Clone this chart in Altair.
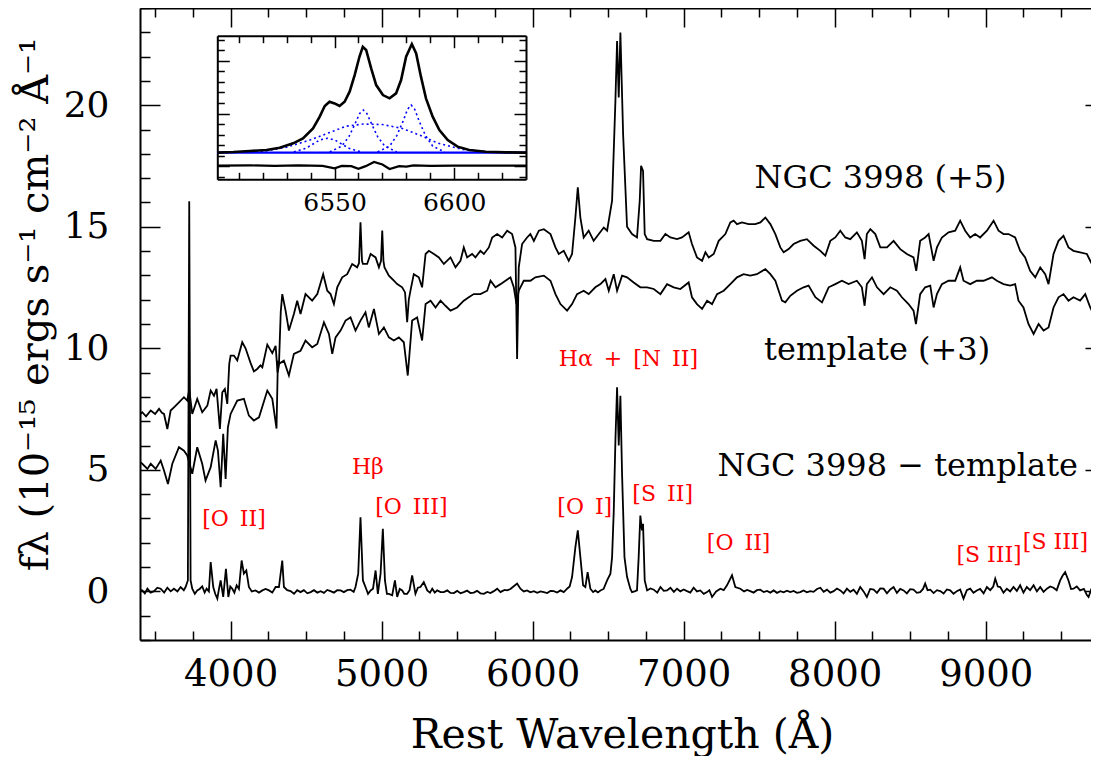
import altair as alt
import pandas as pd

# ---------------- main spectra (rest wavelength in Angstrom, flux in 1e-15 units) -------------
gal_wave = [3404, 3415, 3440, 3471, 3500, 3526, 3545, 3559, 3581, 3603, 3630, 3658, 3691, 3713, 3726, 3746,
            3779, 3812, 3846, 3868, 3890, 3907, 3929, 3945, 3962, 3978, 3991, 4000, 4022, 4044, 4077, 4099,
            4132, 4154, 4176, 4198, 4210, 4243, 4276, 4298, 4311, 4320, 4332, 4342, 4364, 4386, 4419, 4441,
            4463, 4496, 4540, 4574, 4613, 4640, 4662, 4684, 4706, 4739, 4772, 4805, 4838, 4850, 4860, 4870,
            4876, 4904, 4927, 4960, 4982, 4996, 5004, 5012, 5019, 5048, 5081, 5103, 5136, 5155, 5169, 5180,
            5191, 5213, 5246, 5268, 5291, 5313, 5346, 5379, 5412, 5456, 5489, 5522, 5544, 5566, 5599, 5621,
            5654, 5677, 5710, 5732, 5765, 5798, 5831, 5864, 5886, 5897, 5908, 5930, 5963, 5985, 6008, 6041,
            6074, 6118, 6151, 6173, 6206, 6239, 6261, 6283, 6299, 6316, 6338, 6371, 6404, 6438, 6471, 6493,
            6526, 6548, 6559, 6570, 6581, 6599, 6625, 6658, 6691, 6709, 6718, 6731, 6742, 6758, 6802, 6846,
            6879, 6912, 6956, 6989, 7033, 7055, 7088, 7122, 7144, 7166, 7199, 7232, 7276, 7309, 7331, 7353,
            7386, 7430, 7474, 7508, 7541, 7574, 7607, 7640, 7662, 7695, 7728, 7772, 7816, 7861, 7905, 7938,
            7971, 8004, 8037, 8070, 8103, 8147, 8180, 8198, 8213, 8236, 8269, 8302, 8346, 8390, 8434, 8478,
            8522, 8540, 8566, 8599, 8622, 8655, 8677, 8710, 8754, 8798, 8831, 8864, 8897, 8930, 8963, 9008,
            9052, 9085, 9118, 9151, 9195, 9228, 9261, 9294, 9328, 9361, 9394, 9416, 9449, 9482, 9515, 9548,
            9581, 9625, 9670, 9692, 9714, 9750]
gal_flux = [7.30, 7.37, 7.20, 7.44, 7.30, 7.51, 7.35, 7.30, 6.68, 7.44, 7.60, 7.78, 7.99, 7.85, 8.30, 7.30,
            7.92, 7.37, 7.64, 8.26, 8.05, 8.33, 6.68, 8.19, 8.33, 7.71, 9.36, 9.70, 9.70, 9.50, 10.25, 10.00,
            9.40, 9.05, 9.15, 9.30, 9.22, 10.15, 9.80, 10.10, 9.00, 9.30, 11.50, 12.23, 11.55, 10.73, 11.41, 11.96,
            11.41, 12.23, 11.96, 12.23, 13.05, 12.37, 12.23, 11.82, 12.51, 12.92, 13.05, 13.47, 13.33, 13.50, 15.18, 13.60,
            13.47, 13.47, 13.88, 13.74, 13.33, 13.60, 14.84, 13.60, 13.33, 12.99, 12.78, 12.64, 12.51, 12.30, 11.07, 12.00,
            12.37, 13.05, 12.92, 12.51, 13.88, 14.01, 13.88, 13.74, 13.47, 13.74, 13.33, 13.60, 14.15, 13.74, 13.88, 13.74,
            14.01, 13.88, 14.15, 14.56, 14.70, 14.56, 14.84, 14.70, 14.15, 9.56, 13.33, 14.29, 14.56, 14.70, 14.42, 14.84,
            14.90, 14.70, 14.15, 13.88, 14.01, 13.60, 13.88, 15.38, 16.62, 15.38, 14.56, 14.84, 14.42, 14.70, 14.97, 14.84,
            16.07, 20.18, 22.64, 20.32, 22.99, 18.81, 15.00, 14.70, 14.56, 16.07, 17.51, 17.30, 14.70, 14.49, 14.42, 14.42,
            14.70, 14.56, 14.49, 14.56, 14.77, 14.29, 13.74, 13.60, 13.95, 13.74, 13.88, 14.42, 14.70, 15.18, 15.25, 15.11,
            15.18, 15.11, 15.11, 15.18, 15.38, 15.11, 14.70, 14.15, 13.95, 14.08, 14.29, 14.42, 14.49, 14.22, 14.01, 13.81,
            14.42, 14.56, 14.84, 14.56, 14.49, 14.77, 14.42, 13.67, 14.70, 14.90, 14.70, 14.15, 14.15, 14.42, 14.08, 13.88,
            13.74, 13.19, 14.42, 14.56, 14.70, 13.60, 14.15, 14.56, 14.77, 14.84, 15.25, 14.84, 14.56, 14.70, 14.56, 14.84,
            15.25, 14.84, 14.70, 14.70, 14.56, 14.01, 13.74, 13.19, 12.92, 13.33, 13.05, 12.64, 13.88, 14.42, 14.63, 14.15,
            14.01, 13.95, 13.88, 13.60, 13.33, 13.05]

tpl_wave = [3404, 3415, 3449, 3471, 3504, 3537, 3559, 3585, 3614, 3658, 3691, 3713, 3746, 3779, 3812, 3834,
            3868, 3901, 3916, 3934, 3951, 3967, 3982, 4000, 4044, 4088, 4121, 4154, 4188, 4243, 4276, 4304,
            4313, 4320, 4353, 4386, 4419, 4463, 4496, 4540, 4574, 4618, 4651, 4673, 4695, 4728, 4761, 4794,
            4827, 4860, 4893, 4915, 4949, 4982, 5015, 5048, 5081, 5114, 5147, 5173, 5202, 5235, 5268, 5291,
            5324, 5357, 5390, 5423, 5456, 5500, 5544, 5577, 5610, 5654, 5699, 5721, 5754, 5787, 5820, 5853,
            5875, 5893, 5908, 5941, 5985, 6018, 6074, 6118, 6151, 6184, 6228, 6261, 6294, 6338, 6371, 6415,
            6449, 6482, 6504, 6537, 6559, 6592, 6625, 6669, 6713, 6758, 6802, 6846, 6890, 6934, 6978, 7033,
            7055, 7088, 7122, 7155, 7188, 7221, 7265, 7309, 7353, 7397, 7441, 7485, 7541, 7574, 7607, 7651,
            7673, 7706, 7750, 7794, 7827, 7872, 7916, 7960, 8004, 8048, 8092, 8147, 8180, 8198, 8213, 8247,
            8280, 8324, 8368, 8412, 8445, 8489, 8522, 8538, 8566, 8599, 8633, 8655, 8677, 8710, 8754, 8798,
            8831, 8853, 8897, 8941, 8986, 9041, 9074, 9118, 9162, 9195, 9217, 9250, 9283, 9317, 9350, 9383,
            9416, 9449, 9482, 9515, 9548, 9581, 9625, 9659, 9692, 9714, 9750]
tpl_flux = [5.30, 5.25, 5.04, 5.25, 5.04, 5.38, 4.97, 4.42, 5.25, 5.93, 5.79, 5.59, 4.84, 5.93, 5.25, 4.56,
            5.11, 6.21, 5.79, 4.29, 6.48, 4.63, 6.75, 7.30, 7.85, 7.92, 7.23, 7.03, 7.16, 8.26, 7.92, 6.70,
            9.49, 9.36, 9.49, 8.88, 9.77, 9.90, 10.32, 10.04, 10.18, 11.07, 10.59, 9.77, 10.45, 10.73, 11.14, 11.27,
            10.73, 11.14, 11.48, 10.86, 11.62, 10.59, 10.86, 10.45, 10.32, 10.45, 10.25, 8.88, 11.14, 11.27, 10.32, 11.82,
            11.96, 11.68, 11.96, 11.75, 11.55, 11.68, 11.96, 12.10, 12.23, 12.23, 12.37, 12.78, 12.51, 12.64, 12.78, 12.92,
            12.51, 11.82, 12.37, 12.78, 12.78, 12.92, 12.99, 12.78, 12.23, 11.82, 11.55, 11.82, 12.23, 12.37, 12.23, 12.51,
            12.64, 12.85, 12.37, 13.05, 12.37, 12.99, 12.92, 12.71, 12.51, 12.51, 12.44, 12.23, 12.64, 12.51, 12.44, 12.71,
            12.10, 11.82, 11.62, 11.96, 11.82, 12.23, 12.37, 12.64, 12.92, 13.05, 12.99, 13.05, 13.26, 13.05, 12.78, 11.96,
            11.89, 12.16, 12.37, 12.51, 12.58, 12.10, 11.89, 12.51, 12.64, 12.78, 12.64, 12.78, 12.51, 11.75, 12.64, 12.92,
            12.51, 12.23, 12.51, 12.37, 12.10, 11.82, 11.55, 11.00, 12.23, 12.51, 12.58, 11.68, 12.23, 12.64, 12.78, 12.78,
            13.33, 12.78, 12.64, 12.78, 12.78, 12.92, 12.78, 12.64, 12.58, 12.64, 11.96, 11.68, 11.00, 10.59, 11.00, 10.73,
            10.86, 11.68, 12.10, 12.23, 11.96, 12.10, 11.96, 12.23, 11.68, 11.41, 11.14]

dif_wave = [3404, 3415, 3432, 3449, 3470, 3493, 3515, 3537, 3560, 3581, 3603, 3625, 3648, 3669, 3690, 3702,
            3717, 3726, 3735, 3746, 3763, 3779, 3795, 3812, 3828, 3841, 3856, 3868, 3885, 3898, 3912, 3923,
            3934, 3951, 3969, 3985, 3998, 4011, 4025, 4040, 4055, 4073, 4088, 4104, 4121, 4140, 4165, 4188,
            4210, 4232, 4254, 4276, 4298, 4320, 4342, 4353, 4375, 4397, 4420, 4441, 4463, 4485, 4508, 4530,
            4552, 4574, 4596, 4618, 4640, 4662, 4684, 4706, 4728, 4750, 4772, 4794, 4815, 4827, 4845, 4860,
            4876, 4893, 4910, 4927, 4943, 4960, 4975, 4993, 5008, 5022, 5035, 5048, 5070, 5088, 5103, 5120,
            5136, 5150, 5169, 5185, 5202, 5224, 5240, 5257, 5279, 5302, 5320, 5335, 5352, 5368, 5390, 5412,
            5435, 5456, 5478, 5500, 5522, 5544, 5566, 5588, 5610, 5632, 5654, 5677, 5699, 5721, 5743, 5765,
            5787, 5798, 5815, 5831, 5853, 5875, 5897, 5919, 5941, 5963, 5985, 6008, 6030, 6052, 6074, 6096,
            6118, 6140, 6162, 6184, 6206, 6228, 6245, 6261, 6283, 6299, 6316, 6334, 6349, 6364, 6382, 6400,
            6415, 6432, 6449, 6470, 6493, 6515, 6526, 6537, 6548, 6559, 6570, 6581, 6592, 6608, 6625, 6647,
            6658, 6675, 6691, 6702, 6713, 6724, 6731, 6742, 6758, 6780, 6802, 6825, 6846, 6868, 6890, 6912,
            6935, 6956, 6978, 7000, 7022, 7044, 7066, 7088, 7110, 7133, 7155, 7170, 7188, 7215, 7243, 7265,
            7287, 7320, 7342, 7375, 7400, 7420, 7441, 7463, 7485, 7507, 7530, 7552, 7574, 7596, 7618, 7640,
            7662, 7684, 7706, 7728, 7750, 7772, 7794, 7816, 7838, 7860, 7883, 7905, 7927, 7949, 7971, 7993,
            8015, 8037, 8059, 8081, 8103, 8125, 8147, 8169, 8191, 8213, 8235, 8258, 8280, 8302, 8324, 8346,
            8368, 8390, 8412, 8434, 8456, 8478, 8500, 8522, 8544, 8566, 8585, 8599, 8615, 8633, 8655, 8677,
            8699, 8721, 8743, 8765, 8787, 8809, 8831, 8853, 8875, 8897, 8919, 8941, 8963, 8986, 9008, 9030,
            9050, 9063, 9080, 9096, 9118, 9140, 9162, 9184, 9206, 9228, 9250, 9272, 9294, 9317, 9339, 9361,
            9383, 9405, 9427, 9449, 9470, 9493, 9510, 9526, 9548, 9565, 9581, 9603, 9625, 9650, 9670, 9681,
            9700, 9714, 9730, 9750]
dif_flux = [0.05, 0.04, -0.08, 0.11, -0.05, 0.01, 0.15, 0.11, -0.05, 0.15, 0.00, 0.11, 0.00, 0.18, 0.05, 0.18,
            0.45, 16.05, 0.45, 0.11, -0.10, 0.04, 0.10, 0.21, -0.05, 0.11, 0.00, 1.21, 0.18, -0.10, -0.30, 0.10,
            0.45, -0.23, 0.93, -0.23, 0.20, 0.11, -0.05, 0.25, 0.10, 1.27, 0.73, 0.86, 0.18, 0.00, 0.04, -0.05,
            0.04, 0.10, 0.04, -0.05, 0.18, 0.18, 1.27, 0.18, 0.05, 0.01, -0.10, 0.05, -0.03, 0.05, -0.08, -0.03,
            0.05, -0.05, 0.01, -0.06, 0.06, 0.01, -0.05, 0.05, 0.04, -0.03, 0.05, 0.07, -0.02, 0.18, 0.73, 3.05,
            0.45, 0.18, -0.10, 0.04, 0.11, 0.86, -0.10, 0.73, 2.58, 0.45, -0.10, -0.10, -0.16, 0.45, -0.23, 0.10,
            0.04, -0.10, -0.10, 0.05, 0.66, -0.10, 0.15, 0.18, 0.38, 0.04, -0.05, 0.11, -0.05, 0.04, -0.03, -0.03,
            0.04, -0.06, -0.07, 0.02, -0.08, -0.03, 0.03, -0.07, -0.05, 0.02, -0.08, -0.10, -0.02, -0.07, 0.01, 0.11,
            -0.03, 0.01, 0.06, 0.04, 0.10, 0.21, 0.32, 0.11, 0.00, 0.04, -0.04, 0.01, -0.06, 0.00, -0.03, -0.07,
            0.02, 0.01, -0.05, 0.04, -0.03, 0.11, 0.20, 0.59, 1.82, 2.51, 1.41, 0.25, 0.18, 0.79, 0.11, -0.03,
            0.04, -0.04, 0.04, 0.10, 0.45, 0.73, 1.41, 3.30, 6.20, 8.40, 6.00, 8.05, 4.84, 1.41, 0.60, 0.10,
            -0.03, 0.00, 0.04, 1.41, 3.12, 2.51, 2.78, 0.45, 0.04, 0.12, 0.07, -0.05, 0.18, 0.02, 0.04, 0.15,
            -0.02, 0.11, 0.00, 0.08, 0.01, -0.05, 0.15, 0.00, 0.04, -0.10, -0.03, 0.05, -0.23, 0.00, 0.11, 0.05,
            0.25, 0.66, 0.18, 0.11, 0.00, 0.06, 0.01, -0.05, 0.05, 0.07, -0.03, 0.02, -0.05, 0.04, -0.06, 0.01,
            -0.04, 0.03, -0.03, 0.02, -0.06, -0.03, 0.04, -0.04, 0.01, -0.02, 0.10, 0.15, -0.02, 0.07, -0.05, 0.01,
            0.12, 0.04, -0.08, 0.11, -0.02, 0.07, -0.10, 0.18, 0.00, -0.23, 0.10, 0.07, -0.06, 0.12, 0.11, -0.08,
            0.08, 0.18, -0.06, 0.10, 0.04, -0.08, 0.09, 0.07, -0.06, -0.03, 0.10, 0.32, 0.05, 0.07, -0.07, 0.05,
            0.01, -0.09, 0.08, 0.04, -0.10, 0.01, 0.08, -0.30, 0.05, 0.11, -0.06, 0.04, 0.10, -0.08, 0.18, 0.05,
            0.20, 0.52, 0.20, 0.18, -0.05, 0.11, 0.00, 0.18, 0.02, 0.25, -0.05, 0.18, 0.05, 0.25, 0.00, 0.18,
            -0.02, 0.11, 0.20, 0.15, 0.05, 0.45, 0.65, 0.79, 0.45, 0.10, 0.11, 0.20, 0.04, 0.10, -0.15, -0.23,
            0.10, 0.11, -0.10, 0.18]

# ---------------- inset (H-alpha region) --------------------------------------------------------
ins_wave = [6501, 6507.7, 6514.6, 6521.6, 6527.1, 6532.7, 6536.8, 6541.0, 6543.8, 6545.9, 6547.9, 6550.0,
            6552.1, 6554.2, 6556.3, 6558.4, 6560.4, 6561.8, 6563.2, 6565.3, 6567.4, 6570.2, 6573.0, 6575.7,
            6577.8, 6579.9, 6582.3, 6584.1, 6586.1, 6588.2, 6591.0, 6593.8, 6597.3, 6601.4, 6606.3, 6613.2,
            6621.6, 6630]
ins_flux = [0.28, 0.34, 0.44, 0.53, 0.75, 1.17, 1.64, 2.59, 3.70, 4.71, 5.12, 4.96,
            4.71, 5.12, 6.07, 7.65, 9.39, 10.34, 10.03, 8.29, 6.70, 5.75, 5.44, 5.91,
            7.18, 9.39, 10.60, 9.71, 7.50, 5.44, 3.70, 2.43, 1.48, 0.85, 0.53, 0.37,
            0.31, 0.28]
cont_wave = [6501, 6630]
cont_flux = [0.28, 0.28]
res_wave = [6501, 6515, 6525, 6535, 6545, 6550, 6553, 6557, 6560, 6563, 6566.5, 6570, 6573, 6577, 6580,
            6583, 6590, 6600, 6615, 6630]
res_flux = [-0.95, -0.93, -0.97, -0.92, -0.98, -1.20, -0.98, -1.00, -1.25, -1.00, -0.60, -0.85, -1.27, -1.00,
            -1.05, -0.93, -0.97, -0.95, -0.96, -0.95]
ha_n_wave = [6548, 6553, 6556, 6558.5, 6560.5, 6562, 6563.5, 6565.5, 6568, 6571, 6576]
ha_n_flux = [0.35, 0.90, 1.80, 3.00, 4.00, 4.33, 4.00, 3.00, 1.80, 0.90, 0.35]
n2r_wave = [6568, 6573, 6576, 6578.5, 6580.5, 6582, 6583.5, 6585.5, 6588, 6591, 6596]
n2r_flux = [0.35, 0.90, 1.90, 3.20, 4.40, 4.81, 4.40, 3.20, 1.90, 0.90, 0.35]
n2b_wave = [6533, 6538, 6541, 6544, 6547, 6550, 6553, 6556, 6561]
n2b_flux = [0.35, 0.70, 1.10, 1.50, 1.65, 1.50, 1.10, 0.70, 0.35]
brd_wave = [6515, 6520, 6530, 6540, 6548, 6555, 6562, 6570, 6578, 6585, 6593, 6603, 6615]
brd_flux = [0.30, 0.40, 0.80, 1.50, 2.20, 2.80, 3.00, 2.95, 2.60, 2.00, 1.20, 0.60, 0.35]

# ---------------- annotations ----------------------------------------------------------------------
SP = "\u2002"
black_text = ["NGC 3998 (+5)", "template (+3)", "NGC 3998 \u2212 template"]
black_x = [8304, 8281, 8417]
black_y = [17.0, 9.95, 5.14]
red_text = ["H\u03b1" + SP + "+" + SP + "[N" + SP + "II]", "H\u03b2", "[O" + SP + "III]", "[O" + SP + "II]",
            "[O" + SP + "I]", "[S" + SP + "II]", "[O" + SP + "II]", "[S III]", "[S III]"]
red_x = [6634, 4909, 5197, 4022, 6345, 6861, 7364, 9022, 9462]
red_y = [9.58, 5.10, 3.47, 2.98, 3.47, 4.00, 1.99, 1.50, 2.03]

# ---------------- chart ---------------------------------------------------------------------------
FONT = "DejaVu Serif"
# the reference frame runs past the right page edge; the drawing is cropped at the body edge
W, H = 951, 632
XMAX = 3400 + W / 0.15102  # keeps the reference's 0.151 px per Angstrom

main_x = alt.Scale(domain=[3400, XMAX], nice=False, zero=False)
main_y = alt.Scale(domain=[-2, 24], nice=False, zero=False)
IX0, IX1, IY0, IY1 = 77.3, 386.0, 171.3, 27.7
ins_x = alt.Scale(domain=[6501, 6630], range=[IX0, IX1], nice=False, zero=False)
ins_y = alt.Scale(domain=[-2.25, 11.39], range=[IY0, IY1], nice=False, zero=False)


def tick_axis(orient, offset, values, test, big, small, domain):
    return alt.Axis(orient=orient, offset=offset, values=values, labels=False, ticks=True,
                    tickSize={"condition": {"test": test, "value": big}, "value": small},
                    tickColor="black", tickWidth=1.5, domain=domain, domainColor="black",
                    domainWidth=2, grid=False, title=None)


x_main_vals = list(range(3500, 9501, 250))
y_main_vals = list(range(-2, 25))
x_ins_vals = list(range(6510, 6630, 10))
y_ins_vals = list(range(-2, 12))

x_label_axis = alt.Axis(orient="bottom", values=[4000, 5000, 6000, 7000, 8000, 9000], format="d",
                        ticks=False, domain=True, domainColor="black", domainWidth=2, grid=False,
                        labelFont=FONT, labelFontSize=37, labelColor="black", labelPadding=16,
                        labelFlush=False, labelOverlap=False,
                        title="Rest Wavelength (\u00c5)", titleFont=FONT, titleFontSize=41,
                        titleFontWeight="normal", titleColor="black", titleX=482, titleY=107,
                        titleAlign="center", titleBaseline="alphabetic")
y_label_axis = alt.Axis(orient="left", values=[0, 5, 10, 15, 20], format="d", ticks=False,
                        domain=True, domainColor="black", domainWidth=2, grid=False,
                        labelFont=FONT, labelFontSize=36, labelColor="black", labelPadding=31,
                        labelFlush=False, labelOverlap=False,
                        title="f\u03bb (10\u207b\u00b9\u2075 ergs s\u207b\u00b9 cm\u207b\u00b2 \u00c5\u207b\u00b9",
                        titleFont=FONT, titleFontSize=40, titleFontWeight="normal", titleColor="black",
                        titleAngle=270, titleX=-93, titleY=296, titleAlign="center",
                        titleBaseline="alphabetic")

gal = alt.Chart(pd.DataFrame({"w": gal_wave, "f": gal_flux})).mark_line(
    color="black", strokeWidth=1.8, clip=True).encode(
    x=alt.X("w:Q", scale=main_x, axis=x_label_axis),
    y=alt.Y("f:Q", scale=main_y, axis=y_label_axis))

tpl = alt.Chart(pd.DataFrame({"w": tpl_wave, "f": tpl_flux})).mark_line(
    color="black", strokeWidth=1.8, clip=True).encode(
    x=alt.X("w:Q", scale=main_x,
            axis=tick_axis("top", -H, x_main_vals, "datum.value % 1000 === 0", 19, 9, False)),
    y=alt.Y("f:Q", scale=main_y,
            axis=tick_axis("right", -W, y_main_vals, "datum.value % 5 === 0", 20, 10, False)))

# only the stubs of the long right-hand ticks reach into the page
dif = alt.Chart(pd.DataFrame({"w": dif_wave, "f": dif_flux})).mark_line(
    color="black", strokeWidth=1.8, clip=True).encode(
    x=alt.X("w:Q", scale=main_x,
            axis=tick_axis("bottom", -H, x_main_vals, "datum.value % 1000 === 0", 19, 9, True)),
    y=alt.Y("f:Q", scale=main_y,
            axis=tick_axis("left", -W, [0, 5, 10, 15, 20], "datum.value % 5 === 0", 6, 6, False)))

black_lbl = alt.Chart(pd.DataFrame({"x": black_x, "y": black_y, "t": black_text})).mark_text(
    font=FONT, fontSize=32, color="black", align="center", baseline="middle").encode(
    x=alt.X("x:Q", scale=main_x, axis=None), y=alt.Y("y:Q", scale=main_y, axis=None), text="t:N")

red_lbl = alt.Chart(pd.DataFrame({"x": red_x, "y": red_y, "t": red_text})).mark_text(
    font=FONT, fontSize=22, color="#ff0000", align="center", baseline="middle").encode(
    x=alt.X("x:Q", scale=main_x, axis=None), y=alt.Y("y:Q", scale=main_y, axis=None), text="t:N")

ins_label_axis = alt.Axis(orient="bottom", offset=IY0 - H, values=[6550, 6600], format="d", ticks=False,
                          domain=False, grid=False, labelFont=FONT, labelFontSize=25,
                          labelColor="black", labelPadding=11, labelFlush=False, labelOverlap=False,
                          title=None)

ins_prof = alt.Chart(pd.DataFrame({"w": ins_wave, "f": ins_flux})).mark_line(
    color="black", strokeWidth=2.6).encode(
    x=alt.X("w:Q", scale=ins_x, axis=ins_label_axis),
    y=alt.Y("f:Q", scale=ins_y,
            axis=tick_axis("right", IX0 - W, y_ins_vals, "(datum.value + 1) % 5 === 0", 12, 7, True)))

ins_cont = alt.Chart(pd.DataFrame({"w": cont_wave, "f": cont_flux})).mark_line(
    color="#0000ff", strokeWidth=2.4).encode(
    x=alt.X("w:Q", scale=ins_x,
            axis=tick_axis("top", -IY0, x_ins_vals, "datum.value % 50 === 0", 12, 7, True)),
    y=alt.Y("f:Q", scale=ins_y,
            axis=tick_axis("left", -IX1, y_ins_vals, "(datum.value + 1) % 5 === 0", 12, 7, True)))

ins_res = alt.Chart(pd.DataFrame({"w": res_wave, "f": res_flux})).mark_line(
    color="black", strokeWidth=2.2).encode(
    x=alt.X("w:Q", scale=ins_x,
            axis=tick_axis("bottom", IY1 - H, x_ins_vals, "datum.value % 50 === 0", 12, 7, True)),
    y=alt.Y("f:Q", scale=ins_y, axis=None))

comp_rows = []
for name, ws, fs in [("ha", ha_n_wave, ha_n_flux), ("n2r", n2r_wave, n2r_flux),
                     ("n2b", n2b_wave, n2b_flux), ("brd", brd_wave, brd_flux)]:
    for w_, f_ in zip(ws, fs):
        comp_rows.append({"c": name, "w": w_, "f": f_})

ins_comp = alt.Chart(pd.DataFrame(comp_rows)).mark_line(
    color="#0000ff", strokeWidth=1.6, strokeDash=[2, 3]).encode(
    x=alt.X("w:Q", scale=ins_x, axis=None),
    y=alt.Y("f:Q", scale=ins_y, axis=None),
    detail="c:N")

chart = alt.layer(gal, tpl, dif, black_lbl, red_lbl, ins_comp, ins_cont, ins_prof, ins_res).resolve_scale(
    x="independent", y="independent").properties(
    width=W, height=H,
    autosize=alt.AutoSizeParams(type="none"),
    padding={"left": 132, "top": 0, "right": 0, "bottom": 116},
    background="white").configure_view(stroke=None, strokeWidth=0)

chart.save("out.html", embed_options={"renderer": "svg", "actions": False})
